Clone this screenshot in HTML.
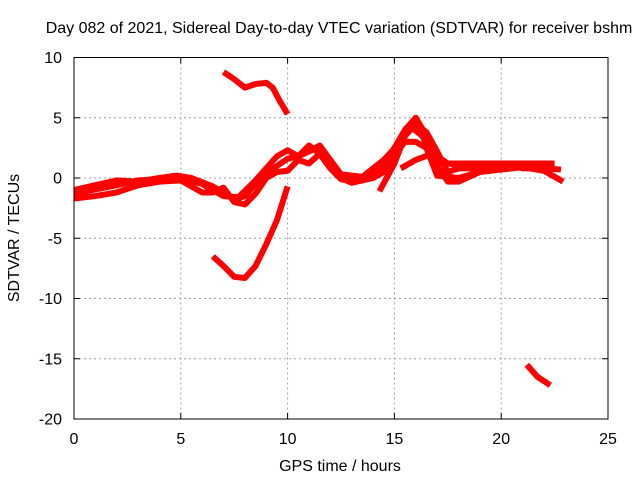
<!DOCTYPE html>
<html><head><meta charset="utf-8"><style>
body{margin:0;background:#fff;}
svg{display:block;font-family:"Liberation Sans",sans-serif;}
</style></head><body>
<svg id="chart" width="640" height="480" viewBox="0 0 640 480">
<rect width="640" height="480" fill="#fff"/>
<g id="grid"></g>
<g id="series"></g>
<rect x="74" y="57.5" width="534" height="361.5" fill="none" stroke="#000" stroke-width="1"/>
<g id="ticks"></g>
<text x="339" y="33" font-size="16" text-anchor="middle">Day 082 of 2021, Sidereal Day-to-day VTEC variation (SDTVAR) for receiver bshm</text>
<text x="340" y="471" font-size="16" text-anchor="middle">GPS time / hours</text>
<text transform="translate(19,238) rotate(-90)" font-size="16" text-anchor="middle">SDTVAR / TECUs</text>
</svg>
<script>
const xTicks=[0,5,10,15,20,25];
const yTicks=[10,5,0,-5,-10,-15,-20];
const seriesA=[[0,-1],[1,-0.6],[2,-0.2],[3,-0.3],[4,0],[4.8,0.2],[5.5,0],[6.5,-0.7],[7.5,-1.8],[8,-1.5],[8.5,-0.5],[9.5,1],[10,1.6],[10.5,1.8],[11,2.7],[11.5,2],[12,0.8],[12.5,-0.1],[13,-0.3],[13.5,-0.2],[14,0.3],[14.5,1],[15,2.5],[15.5,4],[16,5],[16.5,3.5],[17,1],[17.5,-0.3],[18,-0.3],[19,0.5],[20,1],[20.5,1.1],[21,0.8],[22,0.8],[22.8,0.7]];
const seriesB=[[0,-1.7],[1,-1.5],[2,-1.2],[3,-0.6],[4,-0.3],[5,-0.2],[6,-1.2],[6.5,-1.2],[7,-0.8],[7.5,-2],[8,-2.2],[8.5,-1.3],[9,0],[9.5,0.5],[10,0.6],[10.5,1.5],[11,1.2],[11.5,2],[12,1],[12.5,0],[13,-0.4],[14,0],[14.5,0.5],[15,2],[15.5,3],[16,3],[16.5,2.5],[17,0.2],[18,0],[19,0.5],[20,0.7],[21,0.9],[22,0.6],[22.9,-0.3]];
const seriesC=[[0,-1.3],[2,-0.6],[3,-0.2],[5,0],[6,-0.5],[7,-1.5],[7.7,-1.6],[8.5,-0.2],[9.5,1.8],[10,2.3],[10.5,1.8],[11,2.2],[11.5,2.7],[12,1.5],[12.5,0.3],[13.5,0.1],[14.5,1.5],[15.3,3],[15.8,4.2],[16.3,3.5],[17,1.2],[18,1.2],[20,1.2],[21,1.2],[22.5,1.2]];
const seriesD=[[14.3,-1.1],[15,1.2],[15.5,3.5],[16,4.5],[16.5,3.8],[17,2.2],[17.5,0.5],[18,0.8],[19,0.8],[20,1]];
const seriesE=[[15.3,0.8],[16,1.5],[16.6,1.9],[17,1.8],[17.5,1.2],[18,1.1]];
const seriesTop=[[7,8.8],[7.5,8.2],[8,7.5],[8.5,7.8],[9,7.9],[9.3,7.5],[9.6,6.5],[10,5.3]];
const seriesLow=[[6.5,-6.5],[7,-7.3],[7.5,-8.2],[8,-8.3],[8.5,-7.3],[9,-5.5],[9.5,-3.5],[10,-0.7]];
const seriesTail=[[21.2,-15.5],[21.7,-16.5],[22.3,-17.2]];
const allSeries=[seriesA,seriesB,seriesC,seriesD,seriesE,seriesTop,seriesLow,seriesTail];
const X0=74,X1=608,Y0=419,Y1=57.5;
const xs=v=>X0+(v-0)/(25-0)*(X1-X0);
const ys=v=>Y0-(v+20)/30*(Y0-Y1);
const NS='http://www.w3.org/2000/svg';
const grid=document.getElementById('grid'),ticks=document.getElementById('ticks'),ser=document.getElementById('series');
function mk(tag,attrs,parent){const e=document.createElementNS(NS,tag);for(const k in attrs)e.setAttribute(k,attrs[k]);parent.appendChild(e);return e;}
xTicks.forEach(t=>{const x=xs(t);
 if(t>0&&t<25){const g=mk('line',{x1:x,x2:x,y1:Y1,y2:Y0,stroke:'#a0a0a0','stroke-dasharray':'2,3'},grid);
 
 }
 const tk=mk('path',{d:`M${x},${Y0}v-6M${x},${Y1}v6`,stroke:'#000'},ticks);
 
 
 const lb=mk('text',{x:x,y:444,'font-size':'16','text-anchor':'middle'},ticks);lb.textContent=t;
 
 
});
yTicks.forEach(t=>{const y=ys(t);
 if(t>-20&&t<10){const g=mk('line',{x1:X0,x2:X1,y1:y,y2:y,stroke:'#a0a0a0','stroke-dasharray':'2,3'},grid);
 
 }
 const tk=mk('path',{d:`M${X0},${y}h6M${X1},${y}h-6`,stroke:'#000'},ticks);
 
 
 const lb=mk('text',{x:62,y:y+5.5,'font-size':'16','text-anchor':'end'},ticks);lb.textContent=t;
 
 
});
allSeries.forEach((s,i)=>{
 const p=mk('polyline',{points:s.map(d=>xs(d[0])+','+ys(d[1])).join(' '),fill:'none',stroke:'#ff0000','stroke-width':'6','stroke-linejoin':'round','stroke-linecap':'butt'},ser);
 
 
});
</script>
</body></html>
